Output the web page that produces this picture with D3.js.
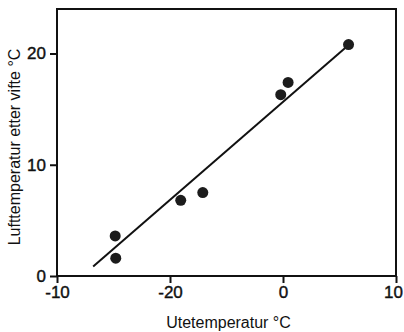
<!DOCTYPE html>
<html>
<head>
<meta charset="utf-8">
<script src="https://cdn.jsdelivr.net/npm/d3@7"></script>
<style>
	body { margin: 0; background: #fff; }
	svg text { font-family: "Liberation Sans", Arial, sans-serif; fill: #111; }
</style>
</head>
<body>
<div id="chart"></div>
<script>
// Measured points
var outdoorTemp = [-29.7, -29.6, -18.1, -14.2, -0.4, 0.9, 11.6];
var fanAirTemp = [3.6, 1.6, 6.8, 7.5, 16.3, 17.4, 20.8];

// Fitted line end points
var fitX = [-33.6, 11.0];
var fitY = [0.85, 20.5];

// Axis ticks (labels as printed in the original)
var xTicks = [-40, -20, 0, 20];
var xTickLabels = ["-10", "-20", "0", "10"];
var yTicks = [0, 10, 20];

var xTitle = "Utetemperatur \u00b0C";
var yTitle = "Lufttemperatur etter vifte \u00b0C";

(function() {
	var width = 404, height = 332;
	var margin = {top: 9, right: 8, bottom: 56, left: 57};
	var w = width - margin.left - margin.right;
	var h = height - margin.top - margin.bottom;

	var svg = d3.select("#chart")
		.append("svg")
			.attr("width", width)
			.attr("height", height);

	var g = svg.append("g")
		.attr("transform", "translate(" + margin.left + "," + margin.top + ")");

	var x = d3.scaleLinear().domain([-40, 20]).range([0, w]);
	var y = d3.scaleLinear().domain([0, 24]).range([h, 0]);

	// Frame
	g.append("rect")
		.attr("width", w)
		.attr("height", h)
		.attr("fill", "none")
		.attr("stroke", "#111")
		.attr("stroke-width", 2);

	// Axes
	var xAxis = g.append("g")
		.attr("transform", "translate(0," + h + ")")
		.call(d3.axisBottom(x)
			.tickValues(xTicks)
			.tickSize(7)
			.tickSizeOuter(0)
			.tickPadding(3)
			.tickFormat(function(d, i) { return xTickLabels[i]; }));

	var yAxis = g.append("g")
		.call(d3.axisLeft(y)
			.tickValues(yTicks)
			.tickSize(7)
			.tickSizeOuter(0)
			.tickPadding(4));

	[xAxis, yAxis].forEach(function(a) {
		a.select(".domain").remove();
		a.selectAll("line").attr("stroke", "#111").attr("stroke-width", 2);
		a.selectAll("text")
			.attr("fill", "#111")
			.attr("stroke", "#111")
			.attr("stroke-width", 0.4)
			.style("font-size", "17px");
	});

	// keep the last x label inside the page
	xAxis.selectAll(".tick:last-of-type text").attr("dx", -3);

	// Fitted line
	g.append("line")
		.attr("x1", x(fitX[0]))
		.attr("y1", y(fitY[0]))
		.attr("x2", x(fitX[1]))
		.attr("y2", y(fitY[1]))
		.attr("stroke", "#111")
		.attr("stroke-width", 2);

	// Points
	g.selectAll(".dot")
		.data(outdoorTemp)
		.enter().append("circle")
			.attr("class", "dot")
			.attr("cx", function(d) { return x(d); })
			.attr("cy", function(d, i) { return y(fanAirTemp[i]); })
			.attr("r", 5.5)
			.attr("fill", "#1c1c1c");

	// Axis titles
	svg.append("text")
		.attr("x", 228.5)
		.attr("y", 328)
		.attr("text-anchor", "middle")
		.style("font-size", "16px")
		.text(xTitle);

	svg.append("text")
		.attr("transform", "translate(20,147) rotate(-90)")
		.attr("text-anchor", "middle")
		.style("font-size", "16px")
		.text(yTitle);
})();
</script>
</body>
</html>
